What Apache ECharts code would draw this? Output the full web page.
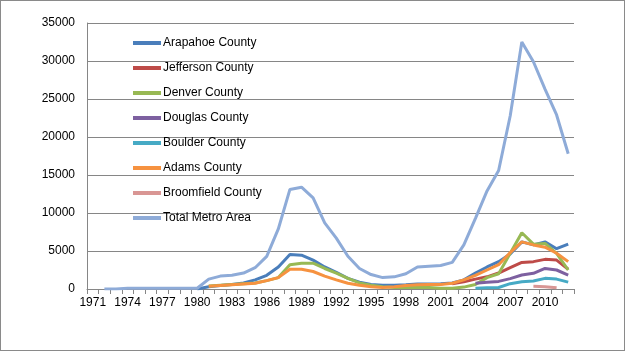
<!DOCTYPE html>
<html>
<head>
<meta charset="utf-8">
<script src="https://cdn.jsdelivr.net/npm/echarts@6/dist/echarts.min.js"></script>
<style>
  html, body { margin: 0; padding: 0; background: #fff; }
  #chart { width: 625px; height: 351px; box-sizing: border-box; border: 1px solid #8a8a8a; }
</style>
</head>
<body>
<div id="chart"></div>
<script>
// years 1971..2012
var years = [];
for (var y = 1971; y <= 2012; y++) years.push(String(y));

var N = null;
// rows of ten: 1971-80, 1981-90, 1991-2000, 2001-10, 2011-12
var arapahoe = [N,N,N,N,N,N,N,N,N,0,
  300,450,600,800,1200,1800,2900,4550,4450,3800,
  2900,2200,1400,900,600,500,500,550,650,650,
  700,800,1200,2100,2900,3600,4600,6200,5800,6200,
  5300,5900];
var jefferson = [N,N,N,N,N,N,N,N,N,N,
  N,N,N,N,N,N,N,N,N,N,
  N,N,N,N,N,N,N,N,N,N,
  N,700,950,1300,1600,2100,2800,3500,3600,3900,
  3800,2600];
var denver = [N,N,N,N,N,N,N,N,N,N,
  400,500,600,700,800,1100,1500,3200,3400,3400,
  2700,2100,1400,800,500,300,200,200,200,200,
  100,100,250,600,1500,2000,4700,7400,5900,6000,
  4700,2500];
var douglas = [N,N,N,N,N,N,N,N,N,N,
  N,N,N,N,N,N,N,N,N,N,
  N,N,N,N,N,N,N,N,N,N,
  N,N,N,750,880,1000,1360,1840,2060,2700,
  2500,1840];
var boulder = [N,N,N,N,N,N,N,N,N,N,
  N,N,N,N,N,N,N,N,N,N,
  N,N,N,N,N,N,N,N,N,N,
  N,N,N,100,150,200,700,950,1050,1400,
  1300,900];
var adams = [N,N,N,N,N,N,N,N,N,N,
  350,450,550,650,750,1100,1500,2600,2600,2300,
  1700,1200,750,480,300,200,300,450,550,600,
  600,750,1200,1800,2500,3200,4800,6200,5800,5500,
  4700,3600];
var broomfield = [N,N,N,N,N,N,N,N,N,N,
  N,N,N,N,N,N,N,N,N,N,
  N,N,N,N,N,N,N,N,N,N,
  N,N,N,N,N,N,N,N,350,300,
  150,N];
var totalMetro = [N,0,0,100,100,100,100,100,100,100,
  1300,1700,1800,2100,2800,4300,7900,13100,13400,12000,
  8700,6700,4300,2700,1900,1500,1600,2000,2900,3000,
  3100,3500,5800,9300,12900,15600,22800,32500,29900,26300,
  22900,17800];

var names = ['Arapahoe County', 'Jefferson County', 'Denver County', 'Douglas County',
  'Boulder County', 'Adams County', 'Broomfield County', 'Total Metro Area'];
var colors = ['#4a7ebb', '#be4b48', '#98b954', '#7d60a0', '#46aac5', '#f69240', '#d99694', '#8eabd8'];
var values = [arapahoe, jefferson, denver, douglas, boulder, adams, broomfield, totalMetro];

var series = names.map(function (n, i) {
  return {
    name: n,
    type: 'line',
    data: values[i],
    showSymbol: false,
    symbol: 'none',
    lineStyle: { width: 3, color: colors[i] },
    itemStyle: { color: colors[i] }
  };
});

var chart = echarts.init(document.getElementById('chart'));
chart.setOption({
  animation: false,
  textStyle: { fontFamily: 'Liberation Sans, Arial, sans-serif' },
  grid: { left: 86, right: 50, top: 22, bottom: 61, containLabel: false },
  legend: {
    orient: 'vertical',
    left: 127,
    top: 30,
    icon: 'rect',
    itemWidth: 28,
    itemHeight: 4,
    itemGap: 11,
    textStyle: { fontSize: 12, color: '#000', lineHeight: 14, padding: [0, 0, 0, -3] },
    data: names
  },
  xAxis: {
    type: 'category',
    data: years,
    boundaryGap: true,
    axisLine: { lineStyle: { color: '#868686', width: 1 } },
    axisTick: { show: true, interval: 0, length: 5, lineStyle: { color: '#868686' } },
    axisLabel: { interval: 2, fontSize: 12, color: '#000', margin: 8 }
  },
  yAxis: {
    type: 'value',
    min: 0,
    max: 35000,
    interval: 5000,
    axisLine: { show: true, lineStyle: { color: '#868686' } },
    axisTick: { show: false },
    axisLabel: { fontSize: 12, color: '#000', margin: 12, formatter: function (v) { return String(v); } },
    splitLine: { lineStyle: { color: '#868686', width: 1 } }
  },
  series: series
});
</script>
</body>
</html>
